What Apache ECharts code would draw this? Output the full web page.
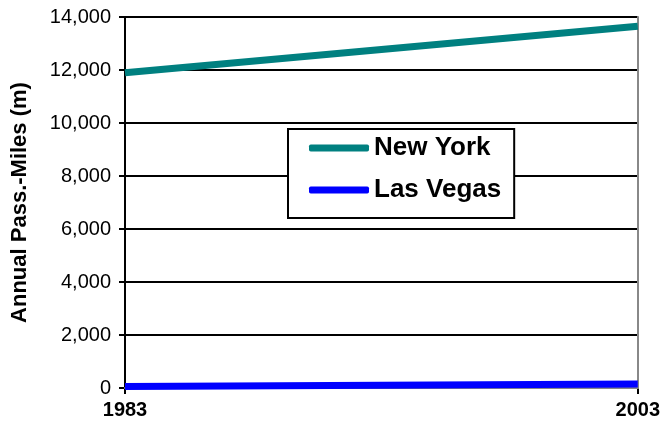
<!DOCTYPE html>
<html>
<head>
<meta charset="utf-8">
<script src="https://cdn.jsdelivr.net/npm/echarts@6/dist/echarts.min.js"></script>
<style>
  html, body { margin: 0; padding: 0; background: #fff; }
  #chart { width: 663px; height: 432px; }
</style>
</head>
<body>
<div id="chart"></div>
<script>
const years = ["1983", "2003"];
const newYork = [11900, 13650];
const lasVegas = [60, 150];

const chart = echarts.init(document.getElementById("chart"));
const font = "Liberation Sans, Arial, sans-serif";

chart.setOption({
  animation: false,
  textStyle: { fontFamily: font },
  grid: { left: 125, right: 25, top: 17, bottom: 44 },
  legend: {
    left: 288,
    top: 129,
    orient: "vertical",
    backgroundColor: "#fff",
    borderColor: "#000",
    borderWidth: 2,
    padding: [6, 13, 15, 21],
    itemGap: 16,
    itemWidth: 60,
    itemHeight: 7,
    icon: "roundRect",
    textStyle: { fontSize: 26, fontWeight: "bold", color: "#000", fontFamily: font },
    data: ["New York", "Las Vegas"],
  },
  xAxis: [
    {
      type: "category",
      data: years,
      boundaryGap: false,
      axisLine: { lineStyle: { color: "#000", width: 2 } },
      axisTick: { length: 6, lineStyle: { color: "#000", width: 2 } },
      axisLabel: { fontSize: 20, fontWeight: "bold", color: "#000", margin: 12 },
    },
    {
      type: "category",
      data: years,
      position: "top",
      boundaryGap: false,
      z: 3,
      axisLine: { lineStyle: { color: "#888", width: 2 } },
      axisTick: { show: false },
      axisLabel: { show: false },
    },
  ],
  yAxis: [
    {
      type: "value",
      min: 0,
      max: 14000,
      interval: 2000,
      z: 1,
      name: "Annual Pass.-Miles (m)",
      nameLocation: "middle",
      nameGap: 94,
      nameTextStyle: { fontSize: 22, fontWeight: "bold", color: "#000" },
      axisLine: { show: true, lineStyle: { color: "#000", width: 2 } },
      axisTick: { show: true, length: 6, lineStyle: { color: "#000", width: 2 } },
      axisLabel: {
        fontSize: 20,
        color: "#000",
        margin: 14,
        formatter: (v) => v.toString().replace(/\B(?=(\d{3})+(?!\d))/g, ","),
      },
      splitLine: { lineStyle: { color: "#000", width: 2 } },
    },
    {
      type: "value",
      min: 0,
      max: 14000,
      interval: 2000,
      position: "right",
      z: 3,
      axisLine: { show: true, lineStyle: { color: "#888", width: 2 } },
      axisTick: { show: false },
      axisLabel: { show: false },
      splitLine: { show: false },
    },
  ],
  series: [
    {
      name: "New York",
      type: "line",
      data: newYork,
      symbol: "none",
      color: "#008080",
      lineStyle: { width: 7, color: "#008080" },
      z: 5,
    },
    {
      name: "Las Vegas",
      type: "line",
      data: lasVegas,
      symbol: "none",
      color: "#0000ff",
      lineStyle: { width: 7, color: "#0000ff" },
      z: 5,
    },
  ],
});
</script>
</body>
</html>
